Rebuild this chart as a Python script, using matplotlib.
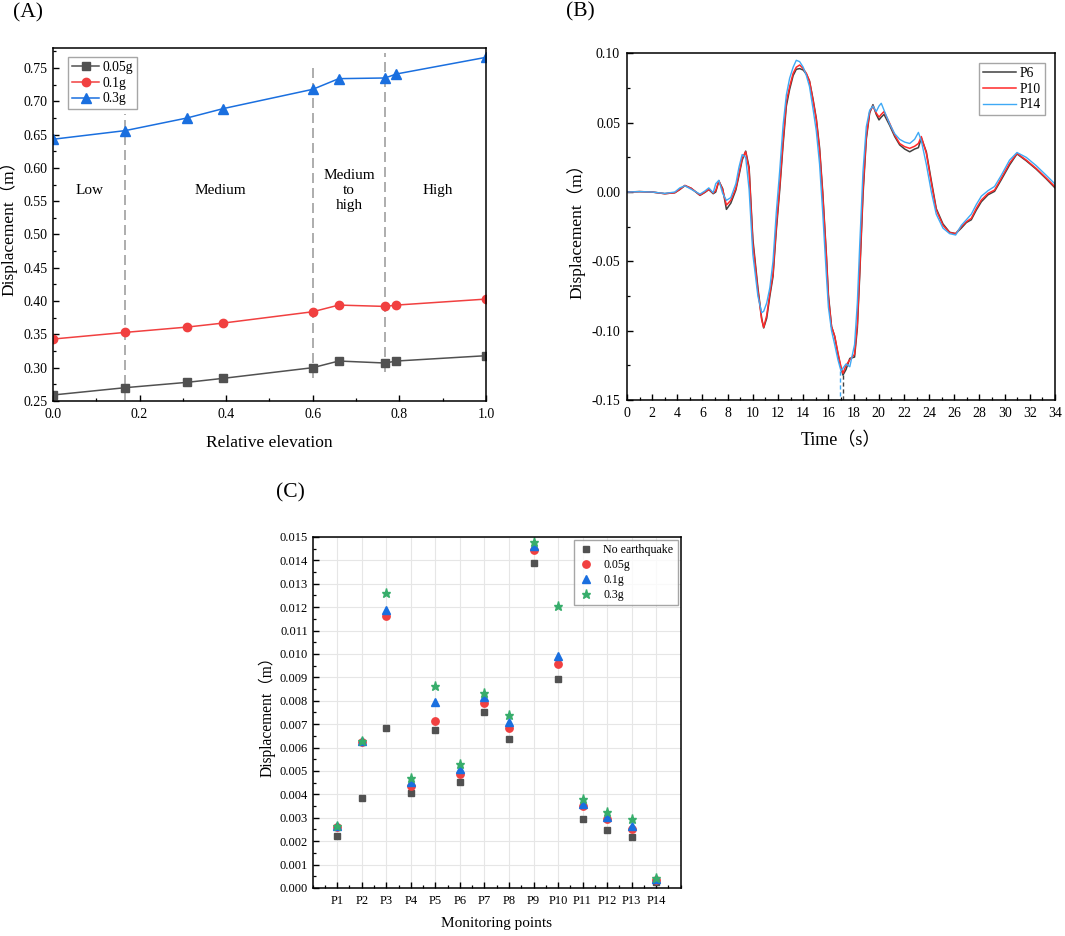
import numpy as np
import matplotlib
matplotlib.use('Agg')
import matplotlib.pyplot as plt
from matplotlib.ticker import MultipleLocator, FormatStrFormatter

plt.rcParams['font.family'] = ['Liberation Serif', 'Noto Sans CJK SC']
plt.rcParams['axes.unicode_minus'] = False

# ---------------- (A) data ----------------
rel_elev = [0.0, 0.167, 0.31, 0.393, 0.6, 0.66, 0.767, 0.793, 1.0]
disp_005g = [0.259, 0.270, 0.278, 0.284, 0.300, 0.310, 0.307, 0.310, 0.318]
disp_01g = [0.343, 0.353, 0.361, 0.367, 0.384, 0.394, 0.392, 0.394, 0.403]
disp_03g = [0.643, 0.656, 0.675, 0.689, 0.718, 0.734, 0.735, 0.741, 0.766]
zone_x = [0.167, 0.6, 0.767]
zone_ymin = [0.252, 0.284, 0.294]
zone_ymax = [0.681, 0.750, 0.772]
zone_names = ['Low', 'Medium', 'Medium\nto\nhigh', 'High']
zone_name_x = [0.085, 0.386, 0.684, 0.889]

# ---------------- (B) data ----------------
time_s = [0, 1, 2, 3, 3.8, 4.2, 4.6, 5.1, 5.8, 6.2, 6.5, 6.85, 7.05, 7.3, 7.6, 7.9,
          8.25, 8.65, 8.9, 9.15, 9.43, 9.7, 10.0, 10.4, 10.7, 10.86, 11.1, 11.35,
          11.6, 11.86, 12.13, 12.4, 12.66, 12.92, 13.2, 13.45, 13.72, 14.0, 14.25,
          14.5, 14.78, 15.04, 15.3, 15.55, 15.84, 16.0, 16.25, 16.5, 16.76, 17.0,
          17.16, 17.4, 17.7, 18.08, 18.3, 18.48, 18.75, 19.01, 19.28, 19.54, 19.8,
          20.02, 20.2, 20.42, 20.87, 21.27, 21.66, 22.06, 22.46, 22.85, 23.15, 23.38,
          23.78, 24.18, 24.57, 25.1, 25.63, 26.11, 26.56, 26.96, 27.35, 27.75, 28.15,
          28.68, 29.2, 29.73, 30.39, 30.98, 31.72, 32.51, 33.31, 34.0]
p10 = [0.0, 0.0003, 0.0, -0.0012, -0.0005, 0.002, 0.0048, 0.0027, -0.0022, 0.0, 0.002,
       -0.0007, 0.001, 0.0082, 0.0017, -0.0094, -0.006, 0.0027, 0.0135, 0.0243, 0.029,
       0.0159, -0.037, -0.071, -0.092, -0.0976, -0.089, -0.073, -0.059, -0.025, 0.004,
       0.037, 0.065, 0.076, 0.0856, 0.090, 0.0916, 0.089, 0.0856, 0.080, 0.066, 0.052,
       0.030, -0.002, -0.047, -0.076, -0.097, -0.104, -0.116, -0.126, -0.1307, -0.125,
       -0.121, -0.117, -0.095, -0.0586, 0.0014, 0.040, 0.058, 0.062, 0.057, 0.054,
       0.056, 0.058, 0.0495, 0.041, 0.035, 0.0327, 0.0315, 0.033, 0.035, 0.040, 0.028,
       0.0063, -0.013, -0.024, -0.0293, -0.030, -0.025, -0.0214, -0.019, -0.0118,
       -0.0058, -0.001, 0.0014, 0.0099, 0.0207, 0.0279, 0.023, 0.017, 0.010, 0.0038]
p6 = [0.0, 0.0003, 0.0, -0.0012, -0.0005, 0.0018, 0.0046, 0.0027, -0.0024, -0.0002, 0.0018,
      -0.0012, 0.0, 0.0078, 0.0025, -0.0125, -0.008, 0.0015, 0.012, 0.023, 0.0295,
      0.018, -0.034, -0.069, -0.091, -0.098, -0.091, -0.075, -0.061, -0.028, 0.001,
      0.034, 0.062, 0.074, 0.084, 0.0885, 0.089, 0.088, 0.085, 0.080, 0.067, 0.053,
      0.032, 0.0, -0.045, -0.074, -0.097, -0.104, -0.117, -0.127, -0.132, -0.128,
      -0.120, -0.119, -0.098, -0.062, -0.002, 0.038, 0.057, 0.063, 0.056, 0.052,
      0.054, 0.056, 0.048, 0.040, 0.034, 0.031, 0.029, 0.031, 0.032, 0.039, 0.029,
      0.008, -0.012, -0.023, -0.029, -0.030, -0.026, -0.022, -0.020, -0.013,
      -0.007, -0.002, 0.0005, 0.0088, 0.0195, 0.0275, 0.0225, 0.0165, 0.0095, 0.003]
p14 = [0.0, 0.0003, 0.0, -0.001, 0.0, 0.003, 0.0045, 0.002, -0.0015, 0.0008, 0.003,
       -0.0005, 0.006, 0.0085, -0.001, -0.006, -0.004, 0.006, 0.018, 0.027, 0.025,
       0.002, -0.045, -0.075, -0.087, -0.086, -0.080, -0.069, -0.050, -0.015, 0.015,
       0.048, 0.070, 0.082, 0.090, 0.095, 0.094, 0.090, 0.084, 0.076, 0.060, 0.044,
       0.020, -0.015, -0.060, -0.083, -0.100, -0.110, -0.121, -0.129, -0.127, -0.124,
       -0.126, -0.110, -0.080, -0.040, 0.015, 0.047, 0.059, 0.062, 0.058, 0.062,
       0.064, 0.059, 0.049, 0.042, 0.038, 0.036, 0.035, 0.038, 0.043, 0.037, 0.020,
       0.0, -0.016, -0.026, -0.030, -0.031, -0.024, -0.020, -0.016, -0.009,
       -0.003, 0.001, 0.004, 0.012, 0.023, 0.0285, 0.025, 0.019, 0.012, 0.0058]
trough_t = [17.16, 16.95]
trough_v = [-0.132, -0.129]

# ---------------- (C) data ----------------
points = ['P%d' % i for i in range(1, 15)]
no_eq = [0.00224, 0.00386, 0.00685, 0.00406, 0.00675, 0.00453, 0.00752, 0.00637,
         0.01387, 0.00892, 0.00295, 0.00246, 0.00219, 0.00024]
c_005g = [0.00259, 0.00623, 0.01162, 0.00437, 0.00712, 0.00489, 0.00789, 0.00682,
          0.01446, 0.00959, 0.00349, 0.00295, 0.00251, 0.00033]
c_01g = [0.00264, 0.00627, 0.01189, 0.00452, 0.00795, 0.00510, 0.00816, 0.00708,
         0.01463, 0.00991, 0.00359, 0.00303, 0.00266, 0.00038]
c_03g = [0.00266, 0.00630, 0.01259, 0.00470, 0.00865, 0.00531, 0.00833, 0.00738,
         0.01477, 0.01204, 0.00380, 0.00323, 0.00296, 0.00043]

GRAY, RED, BLUE, GREEN = '#515151', '#F14040', '#1A6FDF', '#37AD6B'
LBL = ['Liberation Serif', 'Noto Sans CJK SC']


def style_axes(ax, size):
    for sp in ax.spines.values():
        sp.set_linewidth(1.1)
    ax.tick_params(which='both', direction='in', top=False, right=False, labelsize=size)
    ax.tick_params(which='major', length=4, width=1.0, pad=5)
    ax.tick_params(which='minor', length=2.2, width=0.9)


fig = plt.figure(figsize=(10.65, 9.36), dpi=100)

# ---------------- (A) ----------------
axA = fig.add_axes([0.0498, 0.5716, 0.4065, 0.3771])
axA.plot(rel_elev, disp_005g, '-s', color=GRAY, lw=1.1, ms=5.5, label='0.05g')
axA.plot(rel_elev, disp_01g, '-o', color=RED, lw=1.1, ms=6, label='0.1g')
axA.plot(rel_elev, disp_03g, '-^', color=BLUE, lw=1.1, ms=6.5, label='0.3g')
for x, y0, y1 in zip(zone_x, zone_ymin, zone_ymax):
    axA.plot([x, x], [y0, y1], ls=(0, (6, 3)), color='#a0a0a0', lw=1.2, zorder=1)
for name, x in zip(zone_names, zone_name_x):
    axA.text(x, 0.566, name, ha='center', va='center', fontsize=11, linespacing=1.2)
axA.set_xlim(0, 1.0)
axA.set_ylim(0.25, 0.78)
axA.xaxis.set_major_locator(MultipleLocator(0.2))
axA.xaxis.set_minor_locator(MultipleLocator(0.1))
axA.yaxis.set_major_locator(MultipleLocator(0.05))
axA.yaxis.set_minor_locator(MultipleLocator(0.025))
axA.xaxis.set_major_formatter(FormatStrFormatter('%.1f'))
axA.yaxis.set_major_formatter(FormatStrFormatter('%.2f'))
style_axes(axA, 10)
axA.tick_params(axis='y', which='major', pad=4)
axA.set_xlabel('Relative elevation', fontsize=12.5, family=LBL)
axA.set_ylabel('Displacement（m）', fontsize=12.5, family=LBL)
axA.xaxis.set_label_coords(0.5, -0.096)
axA.yaxis.set_label_coords(-0.083, 0.5)
legA = axA.legend(loc='upper left', fontsize=9.8, frameon=True, fancybox=False,
                  edgecolor='#909090', handlelength=2.0, handletextpad=0.2,
                  borderpad=0.3, labelspacing=0.2, borderaxespad=0.0,
                  bbox_to_anchor=(0.035, 0.975))
legA.get_frame().set_linewidth(1.0)

# ---------------- (B) ----------------
axB = fig.add_axes([0.5887, 0.5726, 0.4019, 0.3704])
axB.plot(time_s, p6, color='#404040', lw=1.1, label='P6')
axB.plot(time_s, p10, color='#FF2A2A', lw=1.1, label='P10')
axB.plot(time_s, p14, color='#3FA9F5', lw=1.0, label='P14')
axB.plot([trough_t[0], trough_t[0]], [trough_v[0], -0.15], ls=(0, (3, 2)), color='#404040', lw=1.0)
axB.plot([trough_t[1], trough_t[1]], [trough_v[1], -0.15], ls=(0, (3, 2)), color='#3FA9F5', lw=1.0)
axB.set_xlim(0, 34)
axB.set_ylim(-0.15, 0.10)
axB.xaxis.set_major_locator(MultipleLocator(2))
axB.xaxis.set_minor_locator(MultipleLocator(1))
axB.yaxis.set_major_locator(MultipleLocator(0.05))
axB.yaxis.set_minor_locator(MultipleLocator(0.025))
axB.yaxis.set_major_formatter(FormatStrFormatter('%.2f'))
style_axes(axB, 10)
axB.set_xlabel('Time（s）', fontsize=13, family=LBL)
axB.set_ylabel('Displacement（m）', fontsize=12.5, family=LBL)
axB.xaxis.set_label_coords(0.5, -0.092)
axB.yaxis.set_label_coords(-0.098, 0.5)
legB = axB.legend(loc='upper right', fontsize=9.8, frameon=True, fancybox=False,
                  edgecolor='#909090', handlelength=2.4, handletextpad=0.3,
                  borderpad=0.3, labelspacing=0.2, borderaxespad=0.7)
legB.get_frame().set_linewidth(1.0)

# ---------------- (C) ----------------
axC = fig.add_axes([0.2936, 0.0513, 0.3456, 0.3750])
xc = np.arange(1, len(points) + 1)
axC.grid(True, which='major', color='#e6e6e6', lw=0.8)
axC.set_axisbelow(True)
axC.plot(xc, no_eq, 's', color=GRAY, ms=4.8, ls='none', label='No earthquake')
axC.plot(xc, c_005g, 'o', color=RED, ms=5.3, ls='none', label='0.05g')
axC.plot(xc, c_01g, '^', color=BLUE, ms=5.3, ls='none', label='0.1g')
axC.plot(xc, c_03g, '*', color=GREEN, ms=6.5, ls='none', label='0.3g')
axC.set_xlim(0, 15)
axC.set_ylim(0, 0.015)
axC.set_xticks(xc)
axC.set_xticklabels(points)
axC.xaxis.set_minor_locator(MultipleLocator(0.5))
axC.yaxis.set_major_locator(MultipleLocator(0.001))
axC.yaxis.set_minor_locator(MultipleLocator(0.0005))
axC.yaxis.set_major_formatter(FormatStrFormatter('%.3f'))
style_axes(axC, 9)
axC.tick_params(axis='y', which='major', pad=3.5)
axC.tick_params(axis='x', which='minor', length=2.2)
axC.set_xlabel('Monitoring points', fontsize=11, family=LBL)
axC.set_ylabel('Displacement（m）', fontsize=11.2, family=LBL)
axC.xaxis.set_label_coords(0.5, -0.083)
axC.yaxis.set_label_coords(-0.102, 0.5)
legC = axC.legend(loc='upper right', fontsize=8.6, frameon=True, fancybox=False,
                  edgecolor='#909090', handlelength=1.2, handletextpad=0.9,
                  borderpad=0.35, labelspacing=0.25, borderaxespad=0.25)
legC.get_frame().set_linewidth(1.0)

fig.text(28 / 1065, 1 - 13 / 936, '(A)', ha='center', va='center', fontsize=15.5)
fig.text(580 / 1065, 1 - 12 / 936, '(B)', ha='center', va='center', fontsize=15.5)
fig.text(290 / 1065, 1 - 493 / 936, '(C)', ha='center', va='center', fontsize=15.5)

fig.savefig('out.png', dpi=100)
